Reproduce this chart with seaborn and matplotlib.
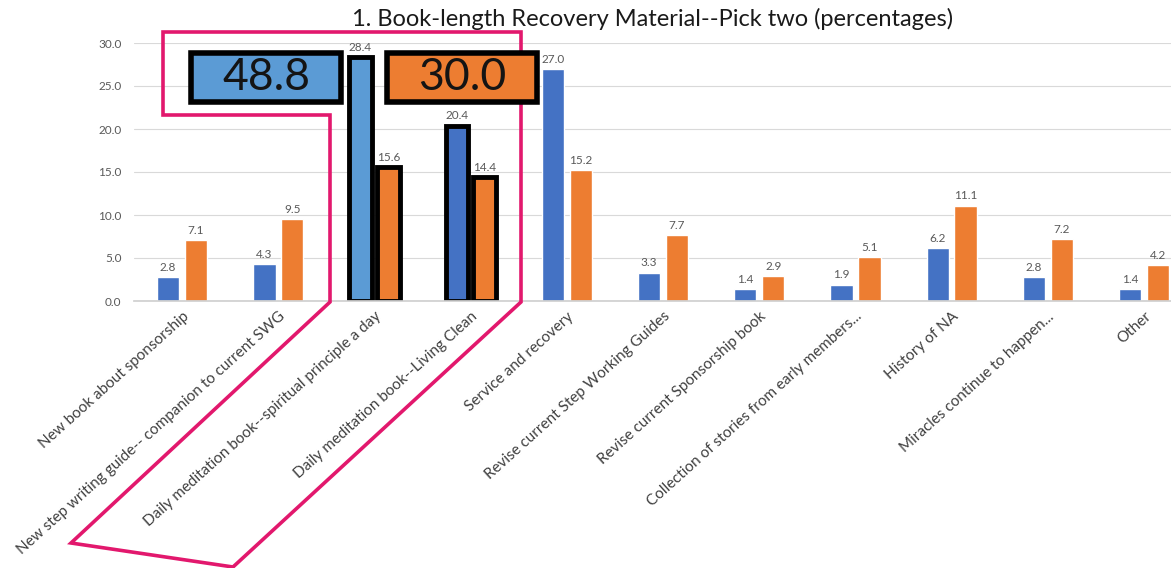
import matplotlib
matplotlib.use("Agg")
import matplotlib.pyplot as plt
import seaborn as sns
import pandas as pd
from matplotlib.patches import Polygon, Rectangle

categories = [
    "New book about sponsorship",
    "New step writing guide-- companion to current SWG",
    "Daily meditation book--spiritual principle a day",
    "Daily meditation book--Living Clean",
    "Service and recovery",
    "Revise current Step Working Guides",
    "Revise current Sponsorship book",
    "Collection of stories from early members...",
    "History of NA",
    "Miracles continue to happen...",
    "Other",
]
series_blue = [2.8, 4.3, 28.4, 20.4, 27.0, 3.3, 1.4, 1.9, 6.2, 2.8, 1.4]
series_orange = [7.1, 9.5, 15.6, 14.4, 15.2, 7.7, 2.9, 5.1, 11.1, 7.2, 4.2]
series_names = ["Series 1", "Series 2"]
highlight = [2, 3]

BLUE = "#4472c4"
LIGHT_BLUE = "#5b9bd5"
ORANGE = "#ed7d31"
PINK = "#e2186d"
W, H = 1171, 568


def px(x, y):
    # pixel position (from top-left) -> figure fraction
    return (x / W, 1 - y / H)


df = pd.DataFrame({
    "item": categories * 2,
    "pct": series_blue + series_orange,
    "series": [series_names[0]] * len(categories) + [series_names[1]] * len(categories),
})

sns.set_theme(style="white")
plt.rcParams["font.family"] = ["Lato", "DejaVu Sans"]

fig, ax = plt.subplots(figsize=(W / 100, H / 100), dpi=100)
fig.subplots_adjust(left=134 / W, right=1.0, bottom=1 - 301 / H, top=1 - 43 / H)

sns.barplot(data=df, x="item", y="pct", hue="series", palette=[BLUE, ORANGE],
            width=0.58, gap=0.2, saturation=1, legend=False, ax=ax)

for c in ax.containers:
    ax.bar_label(c, fmt="%.1f", padding=3, fontsize=8.5, color="#595959")

# highlighted pair of bars
for i in highlight:
    for c in ax.containers:
        c[i].set_edgecolor("black")
        c[i].set_linewidth(3.5)
ax.containers[0][highlight[0]].set_facecolor(LIGHT_BLUE)

ax.set_xlim(-0.5, 10.28)
ax.set_ylim(0, 30)
ax.set_yticks(range(0, 31, 5))
ax.set_yticklabels([f"{v:.1f}" for v in range(0, 31, 5)], fontsize=8.5, color="#595959")
ax.set_xlabel("")
ax.set_ylabel("")
ax.yaxis.grid(True, color="#d9d9d9", linewidth=0.8)
ax.set_axisbelow(True)
for s in ["top", "right", "left"]:
    ax.spines[s].set_visible(False)
ax.spines["bottom"].set_color("#d0d0d0")
ax.tick_params(axis="y", length=0, pad=9)
ax.tick_params(axis="x", length=0, pad=6)
plt.setp(ax.get_xticklabels(), rotation=42, ha="right", rotation_mode="anchor",
         fontsize=11, color="#404040")

ax.set_title("1. Book-length Recovery Material--Pick two (percentages)",
             fontsize=17, color="#1a1a1a", pad=12)

# pink outline around the highlighted items
outline = [(163, 32), (521, 32), (521, 302), (233, 567), (71, 543),
           (330, 302), (330, 115), (163, 115)]
fig.add_artist(Polygon([px(x, y) for x, y in outline], closed=True, fill=False,
                       edgecolor=PINK, linewidth=2.6, transform=fig.transFigure,
                       zorder=10))

# totals of the highlighted bars
totals = [sum(series_blue[i] for i in highlight), sum(series_orange[i] for i in highlight)]
boxes = [(191, LIGHT_BLUE), (387, ORANGE)]
for (x0, color), total in zip(boxes, totals):
    x, y = px(x0, 102)
    fig.add_artist(Rectangle((x, y), 150 / W, 49 / H, facecolor=color,
                             edgecolor="black", linewidth=4,
                             transform=fig.transFigure, zorder=11))
    cx, cy = px(x0 + 75, 78)
    fig.text(cx, cy, f"{total:.1f}", fontsize=32, ha="center", va="center",
             color="#141414", zorder=12)

fig.savefig("out.png", dpi=100)
